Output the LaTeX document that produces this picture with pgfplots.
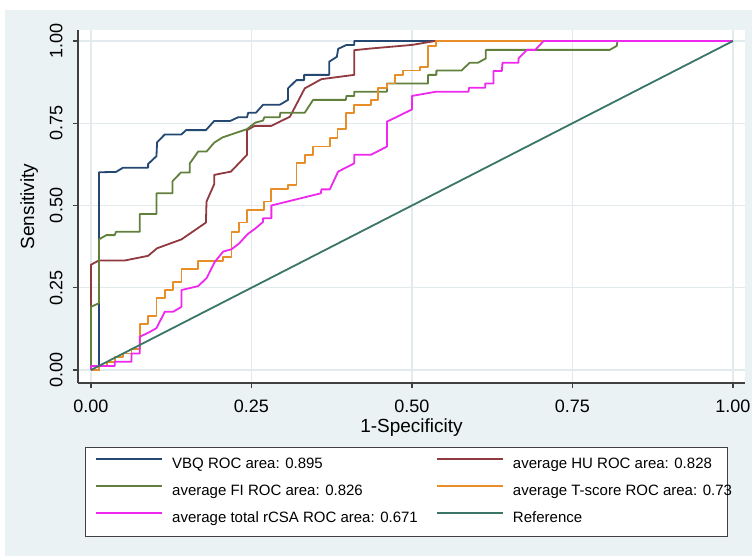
\documentclass[border=0pt]{standalone}
\usepackage{fontspec}
\setmainfont{Liberation Sans}
\usepackage{pgfplots}
\pgfplotsset{compat=1.18}
\definecolor{bgc}{RGB}{234,242,243}
\definecolor{gridc}{RGB}{226,234,238}
\definecolor{cnavy}{RGB}{36,72,114}
\definecolor{cmaroon}{RGB}{144,58,64}
\definecolor{cgreen}{RGB}{96,128,60}
\definecolor{corange}{RGB}{232,142,40}
\definecolor{cmag}{RGB}{238,40,238}
\definecolor{cteal}{RGB}{58,118,104}
\begin{document}
\begin{tikzpicture}[x=1pt,y=1pt]
\path[use as bounding box] (0,0) rectangle (376,278);
\fill[white] (0,0) rectangle (376,278);
\fill[bgc] (2.5,0) rectangle (376,273);
\begin{axis}[
  at={(39pt,86.5pt)}, anchor=south west,
  scale only axis, width=333.5pt, height=176.5pt,
  xmin=-0.0202, xmax=1.0187, ymin=-0.0395, ymax=1.0334,
  axis x line*=bottom, axis y line*=left,
  axis line style={draw=black!75, line width=0.6pt},
  axis background/.style={fill=white},
  xtick={0,0.25,0.5,0.75,1}, ytick={0,0.25,0.5,0.75,1},
  tick align=outside, major tick length=2.7pt,
  tick style={draw=black!75, line width=0.6pt},
  grid=major, major grid style={draw=gridc, line width=0.6pt},
  /pgf/number format/fixed, /pgf/number format/fixed zerofill,
  /pgf/number format/precision=2, /pgf/number format/assume math mode=true,
  xticklabel style={font=\fontsize{9}{10}\selectfont, yshift=-2pt},
  yticklabel style={font=\fontsize{9}{10}\selectfont, rotate=90, anchor=south, yshift=1.5pt},
  xlabel={1-Specificity}, ylabel={Sensitivity},
  xlabel style={font=\fontsize{9.5}{11}\selectfont, at={(axis description cs:0.5,-0.125)}, anchor=center},
  ylabel style={font=\fontsize{9.5}{11}\selectfont, at={(axis description cs:-0.073,0.5)}, anchor=center},
  legend columns=2,
  legend cell align=left,
  legend image code/.code={\draw[#1, line width=0.9pt, line cap=butt] (0pt,2.7pt) -- (33pt,2.7pt);},
  legend style={at={(axis description cs:0.0105,-0.1813)}, anchor=north west,
    draw=black!75, fill=white, inner xsep=5pt, inner ysep=4.1pt,
    font=\fontsize{7.5}{9}\selectfont, row sep=4.3pt,
    nodes={text height=5.6pt, text depth=1.6pt, inner xsep=0pt, inner ysep=1pt, anchor=west},
    /tikz/every odd column/.append style={column sep=4.5pt}},
  every axis plot/.append style={line width=0.9pt, no marks, line join=round},
]
\addplot[color=cnavy] coordinates {(0,0) (0.0125,0) (0.0125,0.601) (0.039,0.602) (0.050,0.615) (0.089,0.615) (0.089,0.626) (0.102,0.650) (0.103,0.692) (0.115,0.716) (0.141,0.716) (0.148,0.729) (0.179,0.729) (0.192,0.757) (0.217,0.757) (0.229,0.768) (0.243,0.768) (0.245,0.782) (0.257,0.782) (0.268,0.806) (0.294,0.806) (0.307,0.821) (0.307,0.856) (0.320,0.881) (0.332,0.881) (0.332,0.897) (0.371,0.897) (0.371,0.937) (0.383,0.952) (0.385,0.976) (0.398,0.988) (0.410,0.988) (0.410,1) (1,1)};
\addlegendentry{\makebox[132pt][l]{VBQ ROC area: 0.895}}
\addplot[color=cmaroon] coordinates {(0,0) (0,0.32) (0.0125,0.333) (0.053,0.333) (0.089,0.347) (0.103,0.370) (0.141,0.397) (0.179,0.448) (0.180,0.512) (0.192,0.565) (0.192,0.593) (0.218,0.603) (0.243,0.654) (0.243,0.729) (0.255,0.742) (0.281,0.742) (0.31,0.770) (0.333,0.856) (0.359,0.884) (0.410,0.897) (0.410,0.972) (0.435,0.977) (0.50,0.988) (0.536,1) (1,1)};
\addlegendentry{\makebox[102pt][l]{average HU ROC area: 0.828}}
\addplot[color=cgreen] coordinates {(0,0) (0,0.192) (0.0125,0.203) (0.0125,0.397) (0.024,0.410) (0.037,0.410) (0.039,0.420) (0.076,0.420) (0.076,0.474) (0.102,0.474) (0.102,0.537) (0.127,0.537) (0.127,0.574) (0.140,0.600) (0.154,0.600) (0.154,0.628) (0.167,0.664) (0.180,0.664) (0.192,0.691) (0.205,0.707) (0.243,0.732) (0.256,0.752) (0.268,0.758) (0.270,0.768) (0.294,0.768) (0.295,0.782) (0.333,0.782) (0.346,0.821) (0.397,0.821) (0.398,0.833) (0.410,0.833) (0.410,0.846) (0.461,0.846) (0.461,0.871) (0.525,0.871) (0.525,0.897) (0.538,0.897) (0.538,0.910) (0.577,0.910) (0.590,0.934) (0.603,0.934) (0.615,0.947) (0.615,0.973) (0.808,0.973) (0.819,0.985) (0.820,1) (1,1)};
\addlegendentry{\makebox[132pt][l]{average FI ROC area: 0.826}}
\addplot[color=corange] coordinates {(0,0) (0.0125,0) (0.0125,0.013) (0.025,0.013) (0.025,0.025) (0.037,0.025) (0.037,0.04) (0.05,0.04) (0.05,0.05) (0.063,0.05) (0.063,0.063) (0.076,0.063) (0.076,0.140) (0.089,0.140) (0.089,0.165) (0.102,0.165) (0.102,0.218) (0.115,0.218) (0.115,0.243) (0.128,0.243) (0.128,0.268) (0.141,0.268) (0.141,0.306) (0.167,0.306) (0.167,0.332) (0.206,0.332) (0.206,0.344) (0.219,0.344) (0.219,0.420) (0.231,0.420) (0.231,0.448) (0.243,0.448) (0.243,0.486) (0.270,0.486) (0.270,0.512) (0.281,0.512) (0.281,0.549) (0.307,0.549) (0.307,0.562) (0.320,0.562) (0.320,0.628) (0.333,0.628) (0.333,0.654) (0.346,0.654) (0.346,0.679) (0.372,0.679) (0.372,0.704) (0.384,0.704) (0.384,0.732) (0.397,0.732) (0.397,0.781) (0.41,0.781) (0.41,0.805) (0.436,0.805) (0.436,0.821) (0.447,0.821) (0.447,0.856) (0.461,0.856) (0.461,0.871) (0.474,0.871) (0.474,0.897) (0.486,0.897) (0.486,0.910) (0.512,0.910) (0.512,0.922) (0.525,0.922) (0.525,0.985) (0.537,0.985) (0.537,1) (1,1)};
\addlegendentry{\makebox[102pt][l]{average T-score ROC area: 0.73}}
\addplot[color=cmag] coordinates {(0,0) (0,0.012) (0.037,0.012) (0.037,0.025) (0.063,0.025) (0.063,0.05) (0.076,0.05) (0.076,0.101) (0.089,0.113) (0.102,0.127) (0.115,0.177) (0.128,0.177) (0.141,0.192) (0.141,0.243) (0.167,0.255) (0.180,0.279) (0.193,0.329) (0.206,0.360) (0.219,0.367) (0.231,0.385) (0.244,0.413) (0.256,0.430) (0.268,0.450) (0.268,0.461) (0.281,0.461) (0.281,0.500) (0.358,0.537) (0.359,0.549) (0.372,0.549) (0.385,0.603) (0.41,0.628) (0.41,0.654) (0.436,0.654) (0.461,0.679) (0.461,0.755) (0.474,0.767) (0.5,0.792) (0.5,0.833) (0.538,0.846) (0.588,0.846) (0.589,0.858) (0.614,0.858) (0.614,0.871) (0.627,0.871) (0.627,0.909) (0.640,0.909) (0.641,0.934) (0.666,0.934) (0.666,0.947) (0.679,0.973) (0.692,0.973) (0.705,1) (1,1)};
\addlegendentry{\makebox[132pt][l]{average total rCSA ROC area: 0.671}}
\addplot[color=cteal] coordinates {(0,0) (1,1)};
\addlegendentry{\makebox[102pt][l]{Reference}}
\end{axis}
\end{tikzpicture}
\end{document}
